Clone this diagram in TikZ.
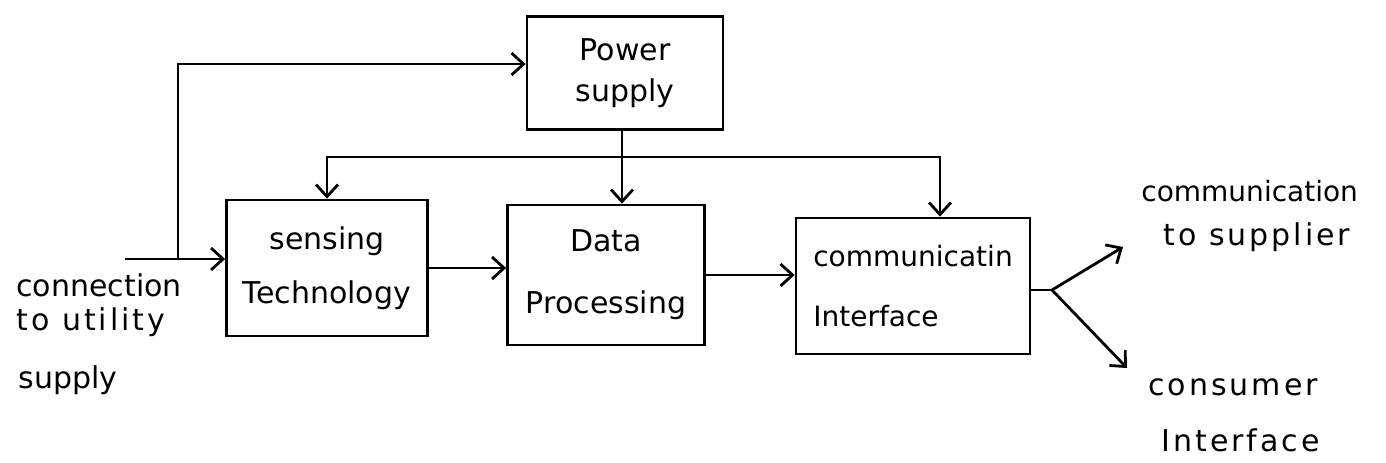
\documentclass[tikz,border=0pt]{standalone}
\usepackage{fontspec}
\setmainfont{DejaVu Sans}
\usetikzlibrary{arrows.meta}
\begin{document}
\begin{tikzpicture}[x=0.5pt,y=-0.5pt,
  line width=1.4pt,
  >={Straight Barb[length=6pt,width=11pt,line width=1.4pt]},
  blockbox/.style={draw, inner sep=0pt, align=center},
  lbl/.style={inner sep=0pt, anchor=base west, font=\fontsize{15}{18}\selectfont},
  wide/.style={font=\fontsize{15}{18}\selectfont\addfontfeature{LetterSpace=10}}]
\useasboundingbox (0,0) rectangle (1386,462);
% blocks
\node[blockbox, minimum width=98pt, minimum height=56.5pt, font=\fontsize{15}{20.5}\selectfont] (power) at (625,73) {Power\\supply};
\node[blockbox, minimum width=100.5pt, minimum height=68pt, font=\fontsize{15}{27}\selectfont] (sensing) at (327,268) {sensing\\Technology};
\node[blockbox, minimum width=98.5pt, minimum height=70pt, font=\fontsize{15}{31}\selectfont] (data) at (606,275) {Data\\Processing};
\node[blockbox, align=left, minimum width=117pt, minimum height=68pt, font=\fontsize{14}{30}\selectfont] (comm) at (913,286) {communicatin\\Interface};
% labels
\node[lbl] (l1) at (15,296) {connection};
\node[lbl, wide] (l2) at (15,330) {to utility};
\node[lbl] (l3) at (17,388) {supply};
\node[lbl, font=\fontsize{14}{18}\selectfont] (r1) at (1140,201) {communication};
\node[lbl, wide] (r2) at (1162,245) {to supplier};
\node[lbl, wide] (r3) at (1147,395) {consumer};
\node[lbl, wide] (r4) at (1160,451) {Interface};
% coordinates
\coordinate (in) at (125,259);
\coordinate (j) at (178,259);
\coordinate (bus) at (622,157);
\coordinate (split) at (1052,290);
\coordinate (tosup) at (1123,247);
\coordinate (tocon) at (1127,368);
% connectors
\draw[->] (in) -- (in -| sensing.west);
\draw[->] (j) |- ([yshift=4.5pt]power.west);
\draw[->] (bus |- power.south) -- (bus |- data.north);
\draw[->] (bus) -| (sensing.north);
\draw[->] (bus) -| ([xshift=13.5pt]comm.north);
\draw[->] (sensing.east) -- (sensing.east -| data.west);
\draw[->] (data.east) -- (data.east -| comm.west);
\draw (split -| comm.east) -- (split);
\draw[->] (split) -- (tosup);
\draw[->] (split) -- (tocon);
\end{tikzpicture}
\end{document}
